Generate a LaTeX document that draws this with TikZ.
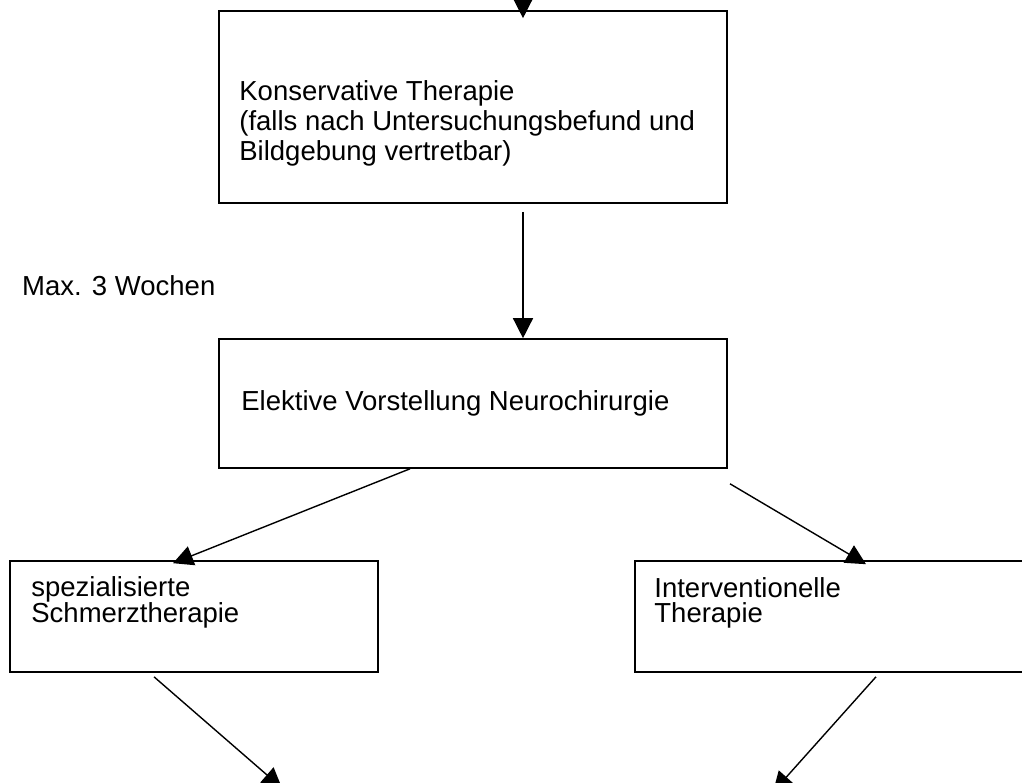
\documentclass[tikz,border=0pt]{standalone}
\usepackage{fontspec}
\setmainfont{Liberation Sans}
\usetikzlibrary{arrows.meta,positioning}

\begin{document}
\begin{tikzpicture}[x=1pt, y=-1pt,
  box/.style = {shape=rectangle, draw, line width=1.6pt, inner sep=0pt},
  txt/.style = {inner sep=0pt, align=left,
    font=\fontsize{27.5}{25}\selectfont},
  pfeil/.style = {line width=1.4pt, -{Triangle[length=20pt,width=20pt]}}]
  \useasboundingbox (0,0) rectangle (1022,783);
  \clip (0,0) rectangle (1022,783);
  \node[box, minimum width=508pt, minimum height=192pt] (konserv) at (473,107) {};
  \node[box, minimum width=508pt, minimum height=129pt] (elektiv) at (473,403.5) {};
  \node[box, minimum width=368pt, minimum height=111pt] (schmerz) at (194,616.5) {};
  \node[box, minimum width=405pt, minimum height=111pt] (interv) at (837.5,616.5) {};
  \node[txt, font=\fontsize{27.5}{30}\selectfont,
    below right=70pt and 21pt of konserv.north west] (konservtxt)
    {Konservative Therapie\\(falls nach Untersuchungsbefund und\\Bildgebung vertretbar)};
  \node[txt, below right=52pt and 23pt of elektiv.north west] (elektivtxt)
    {Elektive Vorstellung Neurochirurgie};
  \node[txt, below right=16pt and 22pt of schmerz.north west] (schmerztxt)
    {spezialisierte\\Schmerztherapie};
  \node[txt, below right=17pt and 20pt of interv.north west] (intervtxt)
    {Interventionelle\\Therapie};
  \node[txt, anchor=base west] (dauer) at (22,296) {Max. 3 Wochen};
  % freie Enden
  \coordinate (oben) at (523,-40);
  \coordinate (untenlinks) at (282,788);
  \coordinate (untenrechts) at (773,792);
  \draw[pfeil] (oben) -- ([shift={(50pt,-8pt)}]konserv.north);
  \draw[pfeil] ([shift={(50pt,-8pt)}]konserv.south) -- ([xshift=50pt]elektiv.north);
  \draw[pfeil] ([xshift=-63pt]elektiv.south) -- ([shift={(-21pt,-3pt)}]schmerz.north);
  \draw[pfeil] ([shift={(257pt,-15pt)}]elektiv.south) -- ([shift={(28.5pt,-4pt)}]interv.north);
  \draw[pfeil] ([shift={(-40pt,-4pt)}]schmerz.south) -- (untenlinks);
  \draw[pfeil] ([shift={(38.5pt,-4pt)}]interv.south) -- (untenrechts);
\end{tikzpicture}
\end{document}
